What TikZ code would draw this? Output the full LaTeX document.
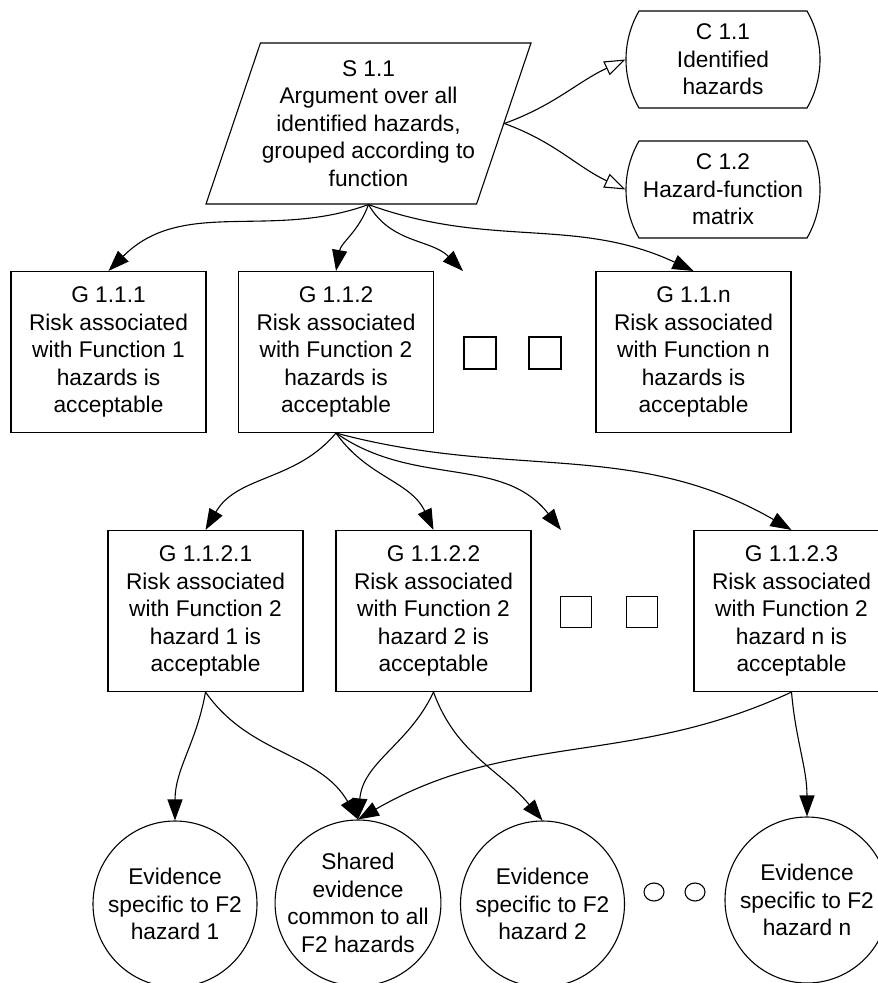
\documentclass[tikz,border=0pt]{standalone}
\usepackage{fontspec}
\setmainfont{Liberation Sans}
\usetikzlibrary{shapes.geometric, shapes.misc, arrows.meta}

\begin{document}
\begin{tikzpicture}[
  x=1pt, y=1pt,
  line width=1.1pt,
  font=\fontsize{22.7}{27.5}\selectfont,
  goalbox/.style={draw, rectangle, minimum width=195pt, minimum height=161pt, align=center, inner sep=0pt},
  stratbox/.style={draw, trapezium, trapezium left angle=67.7, trapezium right angle=112.3, trapezium stretches body, minimum width=325pt, minimum height=161pt, inner xsep=-20pt, align=center},
  ctxbox/.style={draw, rounded rectangle, rounded rectangle arc length=60, minimum width=188pt, minimum height=97pt, align=center, inner sep=0pt},
  evbox/.style={draw, ellipse, minimum width=164pt, minimum height=166pt, align=center, inner sep=-12pt},
  gapbox/.style={draw, rectangle, minimum size=32pt, inner sep=0pt},
  gapdot/.style={draw, ellipse, minimum width=20pt, minimum height=18pt, inner sep=0pt},
  solved/.style={-{Triangle[length=21pt, width=15pt]}},
  incontext/.style={-{Triangle[open, length=21pt, width=15pt, fill=white]}}
]
  \useasboundingbox (0,0) rectangle (878,-983);
  \clip (0,0) rectangle (878,-983);

  % Strategy and context
  \node[stratbox] (s11) at (368.5,-123.5) {S 1.1\\Argument over all\\identified hazards,\\grouped according to\\function};
  \node[ctxbox] (c11) at (723,-59.5) {C 1.1\\Identified\\hazards};
  \node[ctxbox] (c12) at (723,-189.5) {C 1.2\\Hazard-function\\matrix};

  % Goals per function
  \node[goalbox] (g111) at (108.5,-352) {G 1.1.1\\Risk associated\\with Function 1\\hazards is\\acceptable};
  \node[goalbox] (g112) at (336,-352) {G 1.1.2\\Risk associated\\with Function 2\\hazards is\\acceptable};
  \node[gapbox] (gap1) at (480,-353) {};
  \node[gapbox] (gap2) at (545,-353) {};
  \node[goalbox] (g11n) at (693.5,-352) {G 1.1.n\\Risk associated\\with Function n\\hazards is\\acceptable};
  \coordinate (open1) at (463,-271);

  % Goals per hazard of function 2
  \node[goalbox] (g1121) at (205.5,-611) {G 1.1.2.1\\Risk associated\\with Function 2\\hazard 1 is\\acceptable};
  \node[goalbox] (g1122) at (433.5,-611) {G 1.1.2.2\\Risk associated\\with Function 2\\hazard 2 is\\acceptable};
  \node[gapbox, minimum size=31pt] (gap3) at (576,-612) {};
  \node[gapbox, minimum size=31pt] (gap4) at (642,-612) {};
  \node[goalbox] (g1123) at (791.5,-611) {G 1.1.2.3\\Risk associated\\with Function 2\\hazard n is\\acceptable};
  \coordinate (open2) at (561,-530);

  % Evidence
  \node[evbox] (ev1) at (175,-904) {Evidence\\specific to F2\\hazard 1};
  \node[evbox] (evshared) at (358,-903) {Shared\\evidence\\common to all\\F2 hazards};
  \node[evbox] (ev2) at (542.5,-904) {Evidence\\specific to F2\\hazard 2};
  \node[gapdot] (dot1) at (654,-892) {};
  \node[gapdot] (dot2) at (695,-892) {};
  \node[evbox] (evn) at (807,-900) {Evidence\\specific to F2\\hazard n};

  % Connectors
  \draw[incontext] (s11.east) to[out=20, in=205] (c11.west);
  \draw[incontext] (s11.east) to[out=-20, in=155] (c12.west);

  \draw[solved] (s11.south -| s11.center) to[out=200, in=45] (g111.north);
  \draw[solved] (s11.south -| s11.center) to[out=250, in=80] (g112.north);
  \draw[solved] (s11.south -| s11.center) to[out=-60, in=135] (open1);
  \draw[solved] (s11.south -| s11.center) to[out=-20, in=155] (g11n.north);

  \draw[solved] (g112.south) to[out=230, in=60] (g1121.north);
  \draw[solved] (g112.south) to[out=-55, in=115] (g1122.north);
  \draw[solved] (g112.south) to[out=-35, in=128] (open2);
  \draw[solved] (g112.south) to[out=-15, in=150] (g1123.north);

  \draw[solved] (g1121.south) to[out=260, in=90] (ev1.north);
  \draw[solved] (g1121.south) to[out=-55, in=120] (evshared.north);
  \draw[solved] (g1122.south) to[out=245, in=85] (evshared.north);
  \draw[solved] (g1122.south) to[out=-70, in=130] (ev2.north);
  \draw[solved] (g1123.south) to[out=205, in=30] (evshared.north);
  \draw[solved] (g1123.south) to[out=-85, in=90] (evn.north);
\end{tikzpicture}
\end{document}
